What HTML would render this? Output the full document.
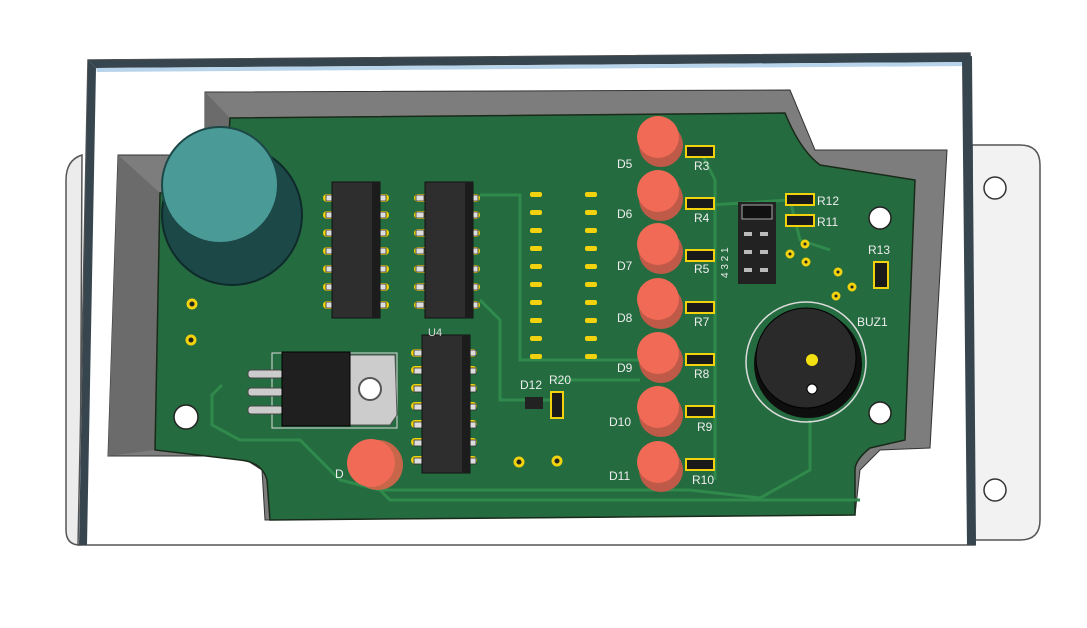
<!DOCTYPE html>
<html><head><style>html,body{margin:0;padding:0;background:#fff}svg{display:block}text{font-family:"Liberation Sans",sans-serif}</style></head>
<body>
<svg width="1087" height="628" viewBox="0 0 1087 628" xmlns="http://www.w3.org/2000/svg">
<rect width="1087" height="628" fill="#fff"/>
<path d="M972 145 L1020 145 Q1040 145 1040 165 L1040 520 Q1040 540 1020 540 L972 540 Z" fill="#f2f2f2" stroke="#555" stroke-width="1.5"/>
<circle cx="995" cy="188" r="11" fill="#fff" stroke="#333" stroke-width="1.5"/>
<circle cx="995" cy="490" r="11" fill="#fff" stroke="#333" stroke-width="1.5"/>
<path d="M82 155 Q66 160 66 180 L66 530 Q66 545 80 545 Z" fill="#ececec" stroke="#555" stroke-width="1.5"/>
<path d="M88 60 L970 53 L975 545 L78 545 Z" fill="#fff" stroke="#555" stroke-width="1.5"/>
<path d="M88 60 L970 53 L972 62 L96 68 Z" fill="#37454f"/>
<path d="M96 68 L972 62 L972 66 L97 72 Z" fill="#b8d4ea"/>
<path d="M88 60 L96 68 L87 545 L79 545 Z" fill="#37454f"/>
<path d="M962 58 L972 56 L976 545 L967 545 Z" fill="#37454f"/>
<path d="M205 92 L790 90 L815 150 L947 150 L930 448 L880 450 L860 470 L855 515 L265 520 L262 470 L240 456 L108 456 L118 155 L205 155 Z" fill="#7d7d7d" stroke="#333" stroke-width="1"/>
<path d="M118 155 L160 193 L155 450 L108 456 Z" fill="#6b6b6b"/>
<path d="M205 92 L230 118 L230 190 L205 190 Z" fill="#6b6b6b"/>
<path d="M230 118 L785 113 Q800 150 820 165 L915 180 L905 440 L870 448 Q855 460 855 470 L855 515 L270 520 L267 480 Q262 462 240 460 L155 450 L160 193 L225 193 Z" fill="#256b40" stroke="#1a2a1a" stroke-width="1.5"/>
<g fill="none" stroke="#2f8a4c" stroke-width="3">
<path d="M222 385 L212 395 L212 425 L240 440 L300 440 L340 480 L380 490 L520 490 L690 490 L760 498 L810 470 L810 420"/>
<path d="M380 490 L390 500 L860 500"/>
<path d="M700 150 L715 180 L715 480"/>
<path d="M480 195 L520 195 L520 360 L640 360"/>
<path d="M480 300 L500 320 L500 400 L555 400"/>
<path d="M555 380 L640 380"/>
<path d="M710 205 L790 200 L800 240 L830 250"/>
</g>
<circle cx="232" cy="215" r="70" fill="#1d4848" stroke="#0f2a2a" stroke-width="2"/>
<circle cx="220" cy="185" r="58" fill="#4a9a98" stroke="#1d4848" stroke-width="2"/>
<g fill="#222" stroke="#f1d20c" stroke-width="3">
<circle cx="192" cy="304" r="4"/><circle cx="191" cy="340" r="4"/>
<circle cx="519" cy="462" r="4"/><circle cx="557" cy="461" r="4"/>
<circle cx="805" cy="244" r="3"/><circle cx="790" cy="254" r="3"/><circle cx="806" cy="262" r="3"/><circle cx="838" cy="272" r="3"/><circle cx="852" cy="287" r="3"/><circle cx="836" cy="296" r="3"/>
</g>
<circle cx="186" cy="417" r="12" fill="#fff" stroke="#222" stroke-width="1.5"/>
<circle cx="880" cy="218" r="11" fill="#fff" stroke="#222" stroke-width="1.5"/>
<circle cx="880" cy="413" r="11" fill="#fff" stroke="#222" stroke-width="1.5"/>
<g fill="#f1d20c">
<g id="p1"><rect x="530" y="192" width="12" height="5" rx="2"/><rect x="530" y="210" width="12" height="5" rx="2"/><rect x="530" y="228" width="12" height="5" rx="2"/><rect x="530" y="246" width="12" height="5" rx="2"/><rect x="530" y="264" width="12" height="5" rx="2"/><rect x="530" y="282" width="12" height="5" rx="2"/><rect x="530" y="300" width="12" height="5" rx="2"/><rect x="530" y="318" width="12" height="5" rx="2"/><rect x="530" y="336" width="12" height="5" rx="2"/><rect x="530" y="354" width="12" height="5" rx="2"/></g>
<use href="#p1" x="55"/>
</g>
<g fill="#f1d20c">
<g id="pd"><rect x="323" y="194" width="66" height="8" rx="4"/><rect x="323" y="211" width="66" height="8" rx="4"/><rect x="323" y="229" width="66" height="8" rx="4"/><rect x="323" y="247" width="66" height="8" rx="4"/><rect x="323" y="265" width="66" height="8" rx="4"/><rect x="323" y="283" width="66" height="8" rx="4"/><rect x="323" y="301" width="66" height="8" rx="4"/></g>
<use href="#pd" x="91"/>
<use href="#pd" x="88" y="155"/>
</g>
<g>
<g fill="#ddd" stroke="#333" stroke-width="0.8">
<rect x="326" y="195" width="8" height="6"/><rect x="326" y="212" width="8" height="6"/><rect x="326" y="230" width="8" height="6"/><rect x="326" y="248" width="8" height="6"/><rect x="326" y="266" width="8" height="6"/><rect x="326" y="284" width="8" height="6"/><rect x="326" y="302" width="8" height="6"/>
<rect x="378" y="195" width="8" height="6"/><rect x="378" y="212" width="8" height="6"/><rect x="378" y="230" width="8" height="6"/><rect x="378" y="248" width="8" height="6"/><rect x="378" y="266" width="8" height="6"/><rect x="378" y="284" width="8" height="6"/><rect x="378" y="302" width="8" height="6"/>
</g>
<rect x="332" y="182" width="48" height="136" fill="#2e2e2e" stroke="#111"/>
<rect x="372" y="182" width="8" height="136" fill="#1c1c1c"/>
<g fill="#ddd" stroke="#333" stroke-width="0.8">
<rect x="416" y="195" width="8" height="6"/><rect x="416" y="212" width="8" height="6"/><rect x="416" y="230" width="8" height="6"/><rect x="416" y="248" width="8" height="6"/><rect x="416" y="266" width="8" height="6"/><rect x="416" y="284" width="8" height="6"/><rect x="416" y="302" width="8" height="6"/>
<rect x="470" y="195" width="8" height="6"/><rect x="470" y="212" width="8" height="6"/><rect x="470" y="230" width="8" height="6"/><rect x="470" y="248" width="8" height="6"/><rect x="470" y="266" width="8" height="6"/><rect x="470" y="284" width="8" height="6"/><rect x="470" y="302" width="8" height="6"/>
</g>
<rect x="425" y="182" width="48" height="136" fill="#2e2e2e" stroke="#111"/>
<rect x="465" y="182" width="8" height="136" fill="#1c1c1c"/>
<g fill="#ddd" stroke="#333" stroke-width="0.8">
<rect x="414" y="350" width="8" height="6"/><rect x="414" y="368" width="8" height="6"/><rect x="414" y="386" width="8" height="6"/><rect x="414" y="404" width="8" height="6"/><rect x="414" y="422" width="8" height="6"/><rect x="414" y="440" width="8" height="6"/><rect x="414" y="458" width="8" height="6"/>
<rect x="468" y="350" width="8" height="6"/><rect x="468" y="368" width="8" height="6"/><rect x="468" y="386" width="8" height="6"/><rect x="468" y="404" width="8" height="6"/><rect x="468" y="422" width="8" height="6"/><rect x="468" y="440" width="8" height="6"/><rect x="468" y="458" width="8" height="6"/>
</g>
<rect x="422" y="335" width="48" height="138" fill="#2e2e2e" stroke="#111"/>
<rect x="462" y="335" width="8" height="138" fill="#1c1c1c"/>
<text x="428" y="336" font-size="11" fill="#ddd">U4</text>
</g>
<rect x="272" y="353" width="125" height="75" fill="none" stroke="#ddd"/>
<g fill="#ccc" stroke="#444"><rect x="248" y="370" width="35" height="8" rx="3"/><rect x="248" y="388" width="35" height="8" rx="3"/><rect x="248" y="406" width="35" height="8" rx="3"/></g>
<path d="M345 355 L395 355 L397 415 L390 425 L345 425 Z" fill="#ccc" stroke="#555"/>
<circle cx="370" cy="389" r="11" fill="#fff" stroke="#555" stroke-width="2"/>
<rect x="282" y="352" width="68" height="74" fill="#1f1f1f" stroke="#000"/>
<circle cx="378" cy="465" r="25" fill="#c8664a"/>
<circle cx="371" cy="463" r="24" fill="#f06a56"/>
<text x="335" y="478" font-size="12" fill="#eee">D</text>
<g>
<g id="led"><circle cx="661" cy="145" r="22" fill="#c05a48"/><circle cx="658" cy="137" r="21" fill="#f06a56"/></g>
<use href="#led" y="54"/><use href="#led" y="107"/><use href="#led" y="162"/><use href="#led" y="216"/><use href="#led" y="270"/><use href="#led" y="325"/>
</g>
<g font-size="12" fill="#eee">
<text x="617" y="168">D5</text><text x="617" y="218">D6</text><text x="617" y="270">D7</text><text x="617" y="322">D8</text><text x="617" y="372">D9</text><text x="609" y="426">D10</text><text x="609" y="480">D11</text>
<text x="694" y="170">R3</text><text x="694" y="222">R4</text><text x="694" y="273">R5</text><text x="694" y="326">R7</text><text x="694" y="378">R8</text><text x="697" y="431">R9</text><text x="692" y="484">R10</text>
<text x="817" y="205">R12</text><text x="817" y="226">R11</text><text x="868" y="254">R13</text><text x="857" y="326">BUZ1</text>
<text x="520" y="389">D12</text><text x="549" y="384">R20</text>
</g>
<g fill="#1a1a1a" stroke="#f1d20c" stroke-width="2">
<rect x="686" y="146" width="28" height="11"/><rect x="686" y="198" width="28" height="11"/><rect x="686" y="250" width="28" height="11"/><rect x="686" y="302" width="28" height="11"/><rect x="686" y="354" width="28" height="11"/><rect x="686" y="406" width="28" height="11"/><rect x="686" y="459" width="28" height="11"/>
<rect x="786" y="194" width="28" height="11"/><rect x="786" y="215" width="28" height="11"/>
<rect x="874" y="262" width="14" height="26"/><rect x="551" y="392" width="12" height="26"/>
</g>
<rect x="525" y="397" width="18" height="12" fill="#222"/>
<rect x="738" y="202" width="38" height="82" fill="#222"/>
<rect x="742" y="205" width="30" height="14" fill="#111" stroke="#aaa"/>
<g fill="#bbb"><rect x="744" y="232" width="8" height="4"/><rect x="760" y="232" width="8" height="4"/><rect x="744" y="250" width="8" height="4"/><rect x="760" y="250" width="8" height="4"/><rect x="744" y="268" width="8" height="4"/><rect x="760" y="268" width="8" height="4"/></g>
<g font-size="10" fill="#eee"><text x="728" y="278" transform="rotate(-90 728 278)">4 3 2 1</text></g>
<circle cx="806" cy="362" r="60" fill="none" stroke="#ddd" stroke-width="1.5"/>
<circle cx="808" cy="364" r="54" fill="#0e0e0e"/>
<circle cx="806" cy="358" r="50" fill="#2a2a2a" stroke="#000"/>
<circle cx="812" cy="360" r="6" fill="#f2e010"/>
<circle cx="812" cy="389" r="5" fill="#fff" stroke="#000"/>
</svg>
</body></html>
